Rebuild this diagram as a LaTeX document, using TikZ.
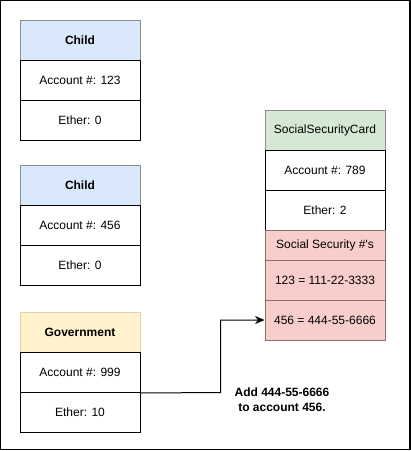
\documentclass[tikz,border=0pt]{standalone}
\usepackage{fontspec}
\setmainfont{Liberation Sans}
\usetikzlibrary{arrows.meta}
\definecolor{bluehead}{HTML}{DAE8FC}
\definecolor{yellowhead}{HTML}{FFF2CC}
\definecolor{greenhead}{HTML}{D5E8D4}
\definecolor{pinkcell}{HTML}{F8CECC}
\definecolor{pinkline}{HTML}{8E6A6A}
\definecolor{headline}{HTML}{8C8C8C}
\definecolor{yellowline}{HTML}{E2D3A8}
\begin{document}
\begin{tikzpicture}[x=0.75pt,y=-0.75pt,
  base/.style={rectangle, minimum width=90pt, minimum height=30pt, inner sep=0pt,
    line width=0.75pt, font=\fontsize{9}{11}\selectfont},
  cell/.style={base, draw=black, fill=white},
  childhead/.style={base, draw=headline, fill=bluehead, font=\fontsize{9}{11}\selectfont\bfseries},
  govhead/.style={base, draw=yellowline, fill=yellowhead, font=\fontsize{9}{11}\selectfont\bfseries},
  cardhead/.style={base, draw=headline, fill=greenhead},
  pink/.style={base, draw=pinkline, fill=pinkcell},
  link/.style={draw=black, line width=0.75pt, -{Stealth[length=7pt,width=6pt,inset=2pt]}},
  note/.style={align=center, font=\fontsize{9}{11}\selectfont\bfseries, inner sep=0pt}
]
\useasboundingbox (0,0) rectangle (411,451);
\draw[line width=0.9pt] (0.6,0.6) rectangle (410,449.6);

% Child 1
\node[childhead] (c1h) at (80,40) {Child};
\node[cell] (c1a) at (80,80) {Account \#: 123};
\node[cell] (c1e) at (80,120) {Ether: 0};

% Child 2
\node[childhead] (c2h) at (80,185) {Child};
\node[cell] (c2a) at (80,225) {Account \#: 456};
\node[cell] (c2e) at (80,265) {Ether: 0};

% Government
\node[govhead] (gh) at (80,332.5) {Government};
\node[cell] (ga) at (80,372.5) {Account \#: 999};
\node[cell] (ge) at (80,412.5) {Ether: 10};

% SocialSecurityCard
\node[cardhead] (sh) at (325,130) {SocialSecurityCard};
\node[cell] (sa) at (325,170) {Account \#: 789};
\node[cell] (se) at (325,210) {Ether: 2};
\node[pink, minimum height=22.5pt] (ss) at (325,245) {Social Security \#\textquotesingle s};
\node[pink] (s1) at (325,280) {123 = 111-22-3333};
\node[pink] (s2) at (325,320) {456 = 444-55-6666};

% connector
\coordinate (bend) at (220.5,392.5);
\draw[link] (ga.south east) -- (bend) |- (s2.west);

% label
\node[note] (lbl) at (282,400) {Add 444-55-6666\\to account 456.};
\end{tikzpicture}
\end{document}
